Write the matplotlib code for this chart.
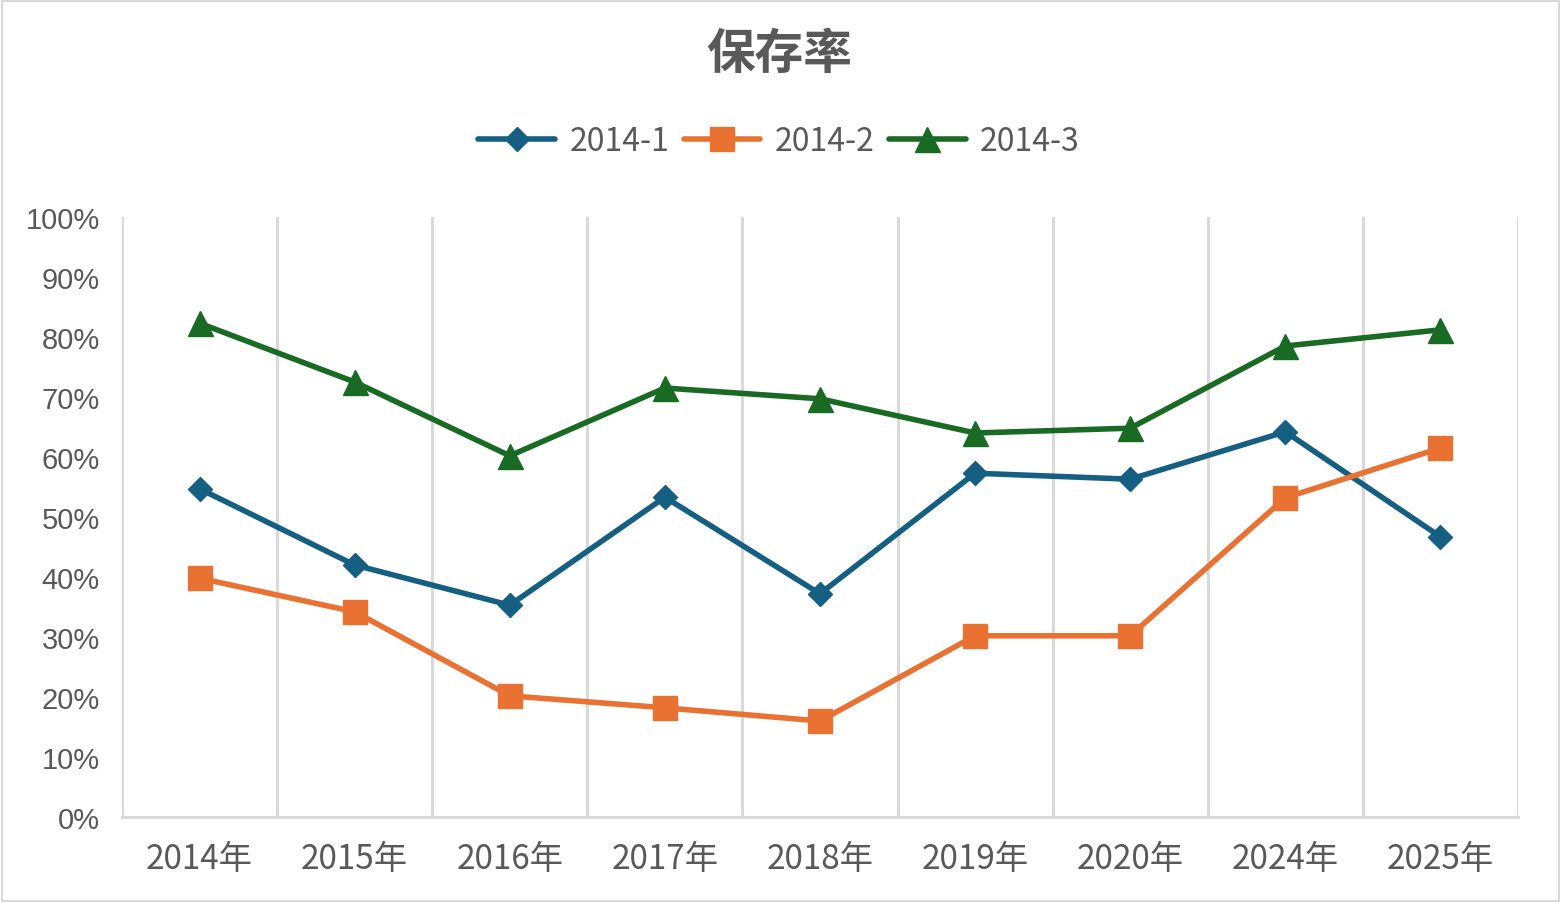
"""保存率 line chart: three cohorts (2014-1/2/3) retention by year."""

import matplotlib
matplotlib.use("Agg")
import matplotlib.pyplot as plt
from matplotlib.patches import Rectangle
from matplotlib.ticker import PercentFormatter

# data (percent)
YEARS = ["2014年", "2015年", "2016年", "2017年", "2018年",
         "2019年", "2020年", "2024年", "2025年"]
COHORT_1 = [54.7, 42.0, 35.3, 53.3, 37.2, 57.3, 56.3, 64.2, 46.7]
COHORT_2 = [39.8, 34.2, 20.2, 18.2, 16.0, 30.2, 30.2, 53.2, 61.5]
COHORT_3 = [82.3, 72.5, 60.2, 71.5, 69.7, 64.0, 64.8, 78.5, 81.2]
SERIES_NAMES = ["2014-1", "2014-2", "2014-3"]
Y_TICKS = list(range(0, 101, 10))

TEXT = "#595959"
GRID = "#D9D9D9"
CJK = ["Noto Sans CJK SC", "DejaVu Sans"]
SANS = ["Liberation Sans", "DejaVu Sans"]

fig = plt.figure(figsize=(15.62, 9.04), dpi=100)
ax = fig.add_axes([122 / 1562, 1 - 818 / 904, (1518 - 122) / 1562, 600 / 904])

x = list(range(len(YEARS)))
styles = [
    dict(color="#156082", marker="D", markersize=12),
    dict(color="#E97132", marker="s", markersize=17),
    dict(color="#196B24", marker="^", markersize=18),
]
for name, ys, st in zip(SERIES_NAMES, [COHORT_1, COHORT_2, COHORT_3], styles):
    ax.plot(x, ys, linewidth=4, label=name, solid_capstyle="round",
            solid_joinstyle="round", **st)

ax.set_xlim(-0.5, len(YEARS) - 0.5)
ax.set_ylim(0, 100)
ax.set_yticks(Y_TICKS)
ax.yaxis.set_major_formatter(PercentFormatter(decimals=0))
ax.set_xticks(x)
ax.set_xticklabels(YEARS)

# vertical gridlines sit on the category boundaries
for b in range(len(YEARS) + 1):
    ax.axvline(b - 0.5, color=GRID, linewidth=2.2, zorder=0)

for side in ("top", "right", "left"):
    ax.spines[side].set_visible(False)
ax.spines["bottom"].set_color(GRID)
ax.spines["bottom"].set_linewidth(2.2)

ax.tick_params(axis="y", length=0, pad=16, colors=TEXT)
ax.tick_params(axis="x", length=0, pad=17, colors=TEXT)
for lab in ax.get_yticklabels():
    lab.set_family(SANS)
    lab.set_fontsize(21)
for lab in ax.get_xticklabels():
    lab.set_family(CJK)
    lab.set_fontsize(24)

fig.text(779 / 1562, 1 - 54 / 904, "保存率", ha="center", va="center",
         fontsize=35, fontweight="bold", color=TEXT, family=CJK)

leg = fig.legend(loc="center", bbox_to_anchor=(779 / 1562, 1 - 142 / 904),
                 ncol=3, frameon=False, handlelength=2.4, handletextpad=0.45,
                 columnspacing=0.45, prop={"family": CJK, "size": 23})
for t in leg.get_texts():
    t.set_color(TEXT)

fig.patches.append(Rectangle((0.001, 0.002), 0.997, 0.996, transform=fig.transFigure,
                             fill=False, edgecolor=GRID, linewidth=1.5))

fig.savefig("out.png", dpi=100)
